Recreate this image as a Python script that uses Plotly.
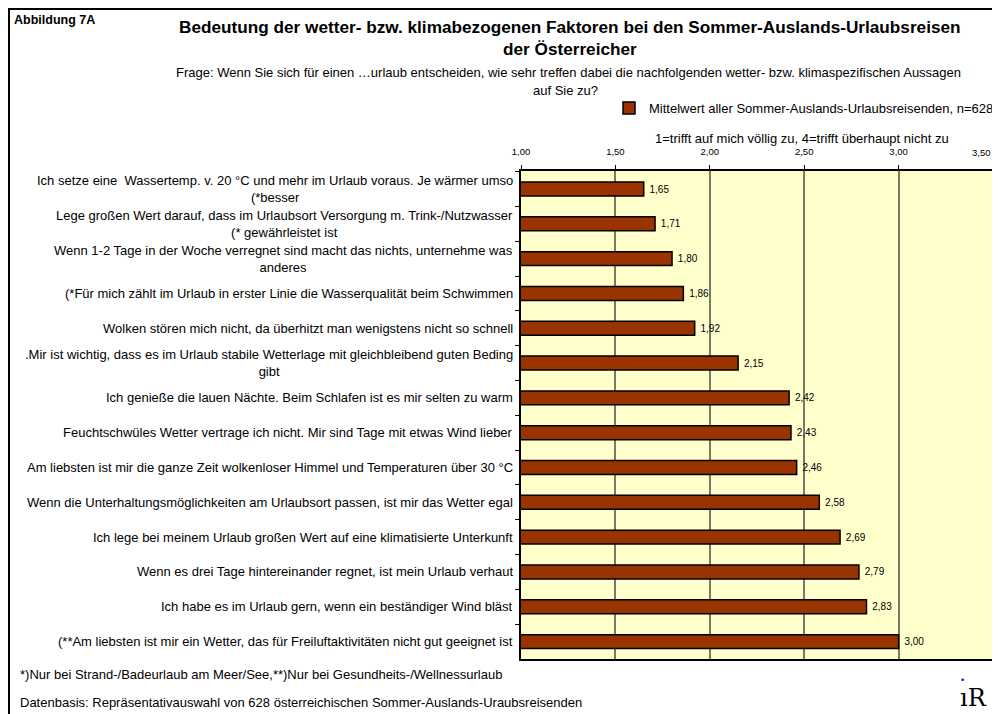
import plotly.graph_objects as go

# data
statements = [
    "Ich setze eine  Wassertemp. v. 20 °C und mehr im Urlaub voraus. Je wärmer umso<br>(*besser",
    "Lege großen Wert darauf, dass im Urlaubsort Versorgung m. Trink-/Nutzwasser<br>(* gewährleistet ist",
    "Wenn 1-2 Tage in der Woche verregnet sind macht das nichts, unternehme was<br>anderes",
    "(*Für mich zählt im Urlaub in erster Linie die Wasserqualität beim Schwimmen",
    "Wolken stören mich nicht, da überhitzt man wenigstens nicht so schnell",
    ".Mir ist wichtig, dass es im Urlaub stabile Wetterlage mit gleichbleibend guten Beding<br>gibt",
    "Ich genieße die lauen Nächte. Beim Schlafen ist es mir selten zu warm",
    "Feuchtschwüles Wetter vertrage ich nicht. Mir sind Tage mit etwas Wind lieber",
    "Am liebsten ist mir die ganze Zeit wolkenloser Himmel und Temperaturen über 30 °C",
    "Wenn die Unterhaltungsmöglichkeiten am Urlaubsort passen, ist mir das Wetter egal",
    "Ich lege bei meinem Urlaub großen Wert auf eine klimatisierte Unterkunft",
    "Wenn es drei Tage hintereinander regnet, ist mein Urlaub verhaut",
    "Ich habe es im Urlaub gern, wenn ein beständiger Wind bläst",
    "(**Am liebsten ist mir ein Wetter, das für Freiluftaktivitäten nicht gut geeignet ist",
]
mittelwert = [1.65, 1.71, 1.80, 1.86, 1.92, 2.15, 2.42, 2.43, 2.46, 2.58, 2.69, 2.79, 2.83, 3.00]
tick_vals = [1.0, 1.5, 2.0, 2.5, 3.0, 3.5]
tick_labels = ["1,00", "1,50", "2,00", "2,50", "3,00", "3,50"]
cat_ids = [str(i) for i in range(len(statements))]
series_name = "Mittelwert aller Sommer-Auslands-Urlaubsreisenden, n=628"

FONT = "Liberation Sans, Arial, sans-serif"

# the page puts the figure 8px in from the top-left corner
OFF = 8
FIG_W, FIG_H = 1000 - OFF, 714 - OFF
# plot area in screen pixels: 521..993 x 171..659
L, T, W, H = 521, 171, 472, 488
def px(x):
    return (x - L) / W
def py(y):
    return 1 - (y - T) / H

fig = go.Figure()
fig.add_trace(go.Bar(
    y=cat_ids, x=mittelwert, orientation="h", name=series_name,
    width=0.4,
    marker=dict(color="#993300", line=dict(color="black", width=1.5)),
    texttemplate=" %{x:.2f}", textposition="outside",
    textfont=dict(size=10, color="black", family=FONT),
    cliponaxis=False,
))

# category labels as annotations (centered multi-line like the original)
annotations = []
for cid, s in zip(cat_ids, statements):
    annotations.append(dict(x=px(515), y=cid, xref="paper", yref="y", text=s,
                            xanchor="right", yanchor="middle", align="center",
                            showarrow=False, font=dict(size=13, family=FONT, color="black")))

def note(x, y, text, size=13, bold=False, xanchor="center", color="black", family=FONT):
    if bold:
        text = "<b>" + text + "</b>"
    annotations.append(dict(x=px(x), y=py(y), xref="paper", yref="paper", text=text,
                            xanchor=xanchor, yanchor="middle", showarrow=False,
                            font=dict(size=size, family=family, color=color)))

note(12, 20, "Abbildung 7A", 12.5, True, "left")
note(570, 27, "Bedeutung der wetter- bzw. klimabezogenen Faktoren bei den Sommer-Auslands-Urlaubsreisen", 17.2, True)
note(570, 49, "der Österreicher", 17.2, True)
note(568, 72, "Frage: Wenn Sie sich für einen …urlaub entscheiden, wie sehr treffen dabei die nachfolgenden wetter- bzw. klimaspezifischen Aussagen", 13)
note(565, 90, "auf Sie zu?", 13)
note(802, 139, "1=trifft auf mich völlig zu, 4=trifft überhaupt nicht zu", 13)
note(18, 674, "*)Nur bei Strand-/Badeurlaub am Meer/See,**)Nur bei Gesundheits-/Wellnessurlaub", 13, xanchor="left")
note(18, 702, "Datenbasis: Repräsentativauswahl von 628 österreichischen Sommer-Auslands-Uraubsreisenden", 13, xanchor="left")
note(973, 698, "ıR", 24, xanchor="center", family="DejaVu Serif, serif")
note(962, 680, "•", 9, xanchor="center", color="blue")

# last tick label sits at the page edge: draw it right-anchored at its tick
annotations.append(dict(x=tick_vals[-1], y=py(152), xref="x", yref="paper",
                        text=tick_labels[-1], xanchor="right", yanchor="middle",
                        showarrow=False, font=dict(size=9.5, family=FONT, color="black")))
tick_text = tick_labels[:-1] + [""]

shapes = [
    dict(type="line", xref="x", yref="paper", x0=v, x1=v, y0=0, y1=1,
         line=dict(color="black", width=1.2), layer="below")
    for v in (2.0, 3.0)
]
shapes.append(dict(type="rect", xref="paper", yref="paper",
                   x0=px(9), x1=px(1010), y0=py(9), y1=py(730),
                   line=dict(color="black", width=2)))

fig.update_layout(
    width=FIG_W, height=FIG_H,
    margin=dict(l=L - OFF, r=1000 - L - W, t=T - OFF, b=714 - T - H, autoexpand=False),
    paper_bgcolor="white", plot_bgcolor="#FFFFCC",
    font=dict(family=FONT, color="black"),
    separators=",.",
    showlegend=True,
    legend=dict(x=px(999), y=py(108), xanchor="right", yanchor="middle",
                bgcolor="rgba(0,0,0,0)", font=dict(size=13, family=FONT),
                itemwidth=30, tracegroupgap=0),
    annotations=annotations,
    shapes=shapes,
)
fig.update_xaxes(
    range=[1, 3.5], tickmode="array", tickvals=tick_vals, ticktext=tick_text, side="top",
    tickfont=dict(size=9.5, family=FONT), ticks="outside", ticklen=4, tickcolor="black",
    ticklabelstandoff=6,
    showgrid=True, gridcolor="#7a7a66", gridwidth=1.5,
    showline=True, linecolor="black", linewidth=1.5, mirror=True, zeroline=False,
)
fig.update_yaxes(
    categoryorder="array", categoryarray=cat_ids, autorange="reversed",
    showticklabels=False, ticks="outside", ticklen=4, tickcolor="black",
    tickson="boundaries", showgrid=False,
    showline=True, linecolor="black", linewidth=1.5, mirror=True,
)

fig.write_html("out.html")
